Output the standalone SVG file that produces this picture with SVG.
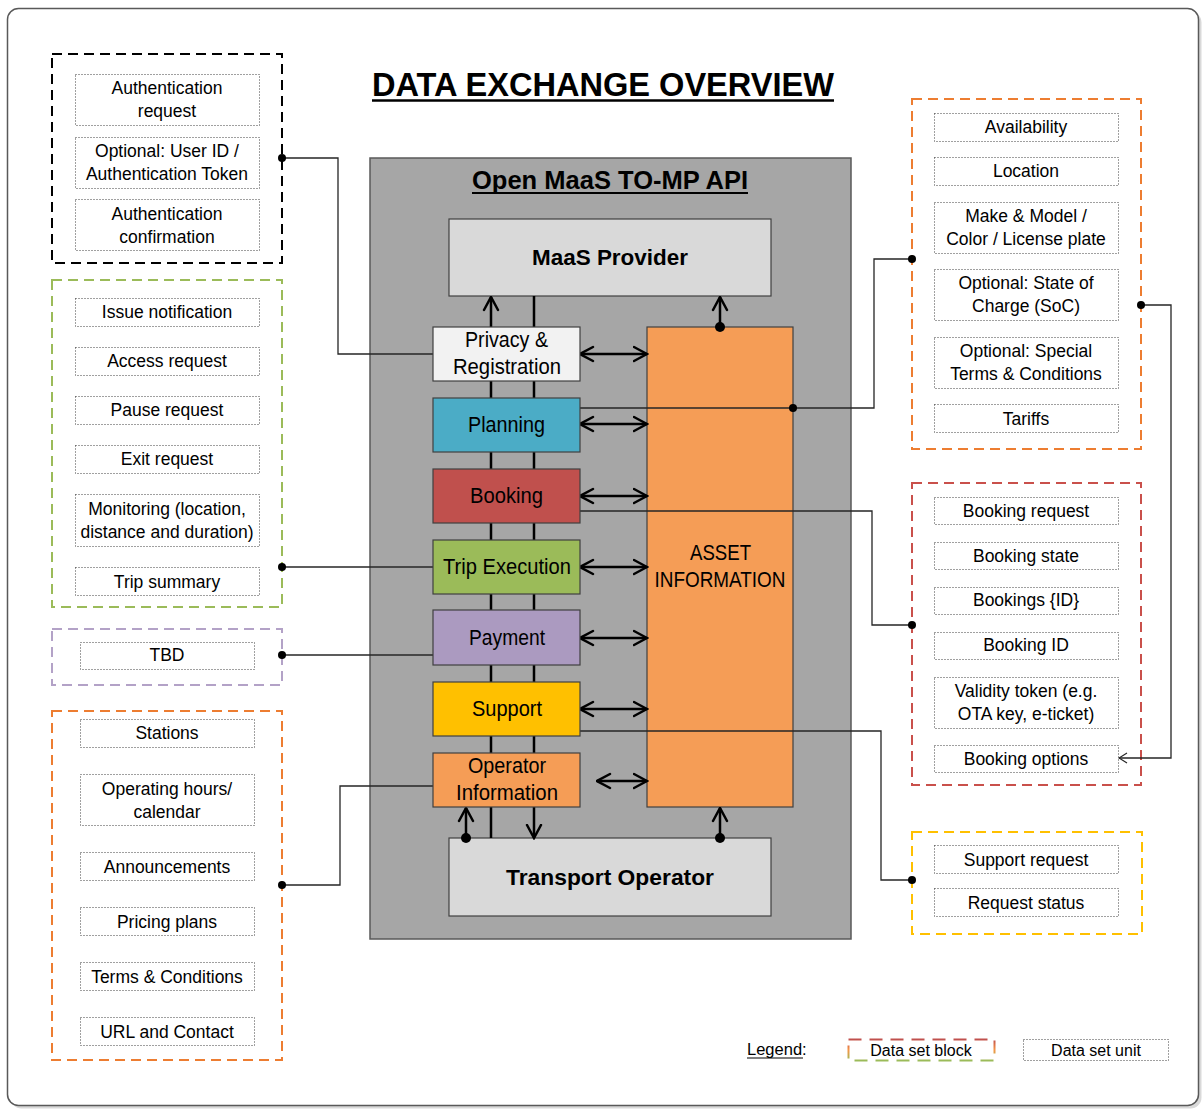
<svg xmlns="http://www.w3.org/2000/svg" width="1204" height="1109" viewBox="0 0 1204 1109">
  <style>
    .blk { fill: none; stroke-width: 2; stroke-dasharray: 10 6; }
    .unit { fill: none; stroke: #404040; stroke-width: 1; stroke-dasharray: 1 2; }
    .ut { font-family: "Liberation Sans", Arial, sans-serif; font-size: 17.5px; fill: #000; text-anchor: middle; }
    .nl { font-family: "Liberation Sans Narrow", "Liberation Sans", Arial, sans-serif; font-size: 22px; fill: #000; text-anchor: middle; }
    .bl { font-family: "Liberation Sans", Arial, sans-serif; font-weight: bold; fill: #000; text-anchor: middle; }
    .fn { stroke: #404040; stroke-width: 1.2; }
    .link { fill: none; stroke: #262626; stroke-width: 1.3; }
    .flow { fill: none; stroke: #000; stroke-width: 2.5; }
    .dot { fill: #000; }
  </style>
  <defs>
    <marker id="openArrow" viewBox="0 0 16 18" refX="14.5" refY="9" markerWidth="16" markerHeight="18" markerUnits="userSpaceOnUse" orient="auto-start-reverse">
      <path d="M1.5,2 L14.5,9 L1.5,16" fill="none" stroke="#000" stroke-width="2.5" stroke-linecap="round"/>
    </marker>
    <marker id="thinArrow" viewBox="0 0 10 12" refX="9" refY="6" markerWidth="10" markerHeight="12" markerUnits="userSpaceOnUse" orient="auto">
      <path d="M1,1 L9,6 L1,11" fill="none" stroke="#262626" stroke-width="1.2"/>
    </marker>
    <linearGradient id="legendGrad" x1="0" y1="0" x2="0" y2="1">
      <stop offset="0" stop-color="#c0504d"/>
      <stop offset="0.5" stop-color="#f79646"/>
      <stop offset="1" stop-color="#9bbb59"/>
    </linearGradient>
  </defs>

  <!-- page frame -->
  <rect x="10.5" y="11.5" width="1191" height="1097" rx="11" fill="#d9d9d9"/>
  <rect x="7.5" y="8.5" width="1191" height="1097" rx="11" fill="#fff" stroke="#595959" stroke-width="1.5"/>

  <!-- title -->
  <text class="bl" x="603" y="96" font-size="33" textLength="462" lengthAdjust="spacingAndGlyphs">DATA EXCHANGE OVERVIEW</text>
  <line x1="372" y1="100.5" x2="834" y2="100.5" stroke="#000" stroke-width="2.5"/>

  <!-- data set block: privacy & registration -->
  <g id="ds-privacy">
    <rect class="blk" x="52" y="54" width="230" height="209" stroke="#000"/>
    <rect class="unit" x="75.5" y="74.5" width="184" height="51"/>
    <text class="ut" x="167" y="94">Authentication</text>
    <text class="ut" x="167" y="117">request</text>
    <rect class="unit" x="75.5" y="137.5" width="184" height="51"/>
    <text class="ut" x="167" y="157">Optional: User ID /</text>
    <text class="ut" x="167" y="180">Authentication Token</text>
    <rect class="unit" x="75.5" y="199.5" width="184" height="51"/>
    <text class="ut" x="167" y="220">Authentication</text>
    <text class="ut" x="167" y="243">confirmation</text>
  </g>

  <!-- data set block: trip execution -->
  <g id="ds-trip">
    <rect class="blk" x="52" y="280" width="230" height="327" stroke="#9bbb59"/>
    <rect class="unit" x="75.5" y="298.5" width="184" height="28"/>
    <text class="ut" x="167" y="318">Issue notification</text>
    <rect class="unit" x="75.5" y="347.5" width="184" height="28"/>
    <text class="ut" x="167" y="367">Access request</text>
    <rect class="unit" x="75.5" y="396.5" width="184" height="28"/>
    <text class="ut" x="167" y="416">Pause request</text>
    <rect class="unit" x="75.5" y="445.5" width="184" height="28"/>
    <text class="ut" x="167" y="465">Exit request</text>
    <rect class="unit" x="75.5" y="494.5" width="184" height="52"/>
    <text class="ut" x="167" y="515">Monitoring (location,</text>
    <text class="ut" x="167" y="538">distance and duration)</text>
    <rect class="unit" x="75.5" y="567.5" width="184" height="28"/>
    <text class="ut" x="167" y="588">Trip summary</text>
  </g>

  <!-- data set block: payment -->
  <g id="ds-payment">
    <rect class="blk" x="52" y="629" width="230" height="56" stroke="#b3a2c7"/>
    <rect class="unit" x="80.5" y="642.5" width="174" height="27"/>
    <text class="ut" x="167" y="661">TBD</text>
  </g>

  <!-- data set block: operator information -->
  <g id="ds-operator">
    <rect class="blk" x="52" y="711" width="230" height="349" stroke="#ed7d31"/>
    <rect class="unit" x="80.5" y="719.5" width="174" height="28"/>
    <text class="ut" x="167" y="739">Stations</text>
    <rect class="unit" x="80.5" y="774.5" width="174" height="51"/>
    <text class="ut" x="167" y="795">Operating hours/</text>
    <text class="ut" x="167" y="818">calendar</text>
    <rect class="unit" x="80.5" y="852.5" width="174" height="28"/>
    <text class="ut" x="167" y="873">Announcements</text>
    <rect class="unit" x="80.5" y="907.5" width="174" height="28"/>
    <text class="ut" x="167" y="928">Pricing plans</text>
    <rect class="unit" x="80.5" y="962.5" width="174" height="28"/>
    <text class="ut" x="167" y="983">Terms &amp; Conditions</text>
    <rect class="unit" x="80.5" y="1017.5" width="174" height="28"/>
    <text class="ut" x="167" y="1038">URL and Contact</text>
  </g>

  <!-- data set block: asset information -->
  <g id="ds-asset">
    <rect class="blk" x="912" y="99" width="229" height="350" stroke="#ed7d31"/>
    <rect class="unit" x="934.5" y="113.5" width="184" height="28"/>
    <text class="ut" x="1026" y="133">Availability</text>
    <rect class="unit" x="934.5" y="157.5" width="184" height="28"/>
    <text class="ut" x="1026" y="177">Location</text>
    <rect class="unit" x="934.5" y="202.5" width="184" height="51"/>
    <text class="ut" x="1026" y="222">Make &amp; Model /</text>
    <text class="ut" x="1026" y="245">Color / License plate</text>
    <rect class="unit" x="934.5" y="269.5" width="184" height="51"/>
    <text class="ut" x="1026" y="289">Optional: State of</text>
    <text class="ut" x="1026" y="312">Charge (SoC)</text>
    <rect class="unit" x="934.5" y="337.5" width="184" height="51"/>
    <text class="ut" x="1026" y="357">Optional: Special</text>
    <text class="ut" x="1026" y="380">Terms &amp; Conditions</text>
    <rect class="unit" x="934.5" y="404.5" width="184" height="28"/>
    <text class="ut" x="1026" y="425">Tariffs</text>
  </g>

  <!-- data set block: booking -->
  <g id="ds-booking">
    <rect class="blk" x="912" y="483" width="229" height="302" stroke="#c9504b"/>
    <rect class="unit" x="934.5" y="497.5" width="184" height="27"/>
    <text class="ut" x="1026" y="517">Booking request</text>
    <rect class="unit" x="934.5" y="542.5" width="184" height="27"/>
    <text class="ut" x="1026" y="562">Booking state</text>
    <rect class="unit" x="934.5" y="587.5" width="184" height="27"/>
    <text class="ut" x="1026" y="606">Bookings {ID}</text>
    <rect class="unit" x="934.5" y="632.5" width="184" height="27"/>
    <text class="ut" x="1026" y="651">Booking ID</text>
    <rect class="unit" x="934.5" y="677.5" width="184" height="51"/>
    <text class="ut" x="1026" y="697">Validity token (e.g.</text>
    <text class="ut" x="1026" y="720">OTA key, e-ticket)</text>
    <rect class="unit" x="934.5" y="745.5" width="184" height="27"/>
    <text class="ut" x="1026" y="765">Booking options</text>
  </g>

  <!-- data set block: support -->
  <g id="ds-support">
    <rect class="blk" x="912" y="832" width="230" height="102" stroke="#ffc000"/>
    <rect class="unit" x="934.5" y="845.5" width="184" height="28"/>
    <text class="ut" x="1026" y="866">Support request</text>
    <rect class="unit" x="934.5" y="888.5" width="184" height="28"/>
    <text class="ut" x="1026" y="909">Request status</text>
  </g>

  <!-- API container -->
  <g id="api">
    <rect x="370" y="158" width="481" height="781" fill="#a6a6a6" stroke="#595959" stroke-width="1.5"/>
    <text class="bl" x="610" y="189" font-size="25" textLength="276" lengthAdjust="spacingAndGlyphs">Open MaaS TO-MP API</text>
    <line x1="472" y1="193" x2="748" y2="193" stroke="#000" stroke-width="2"/>
  </g>

  <g id="maas-provider">
    <rect x="449" y="219" width="322" height="77" fill="#d9d9d9" stroke="#404040" stroke-width="1.2"/>
    <text class="bl" x="610" y="265" font-size="22" textLength="156" lengthAdjust="spacingAndGlyphs">MaaS Provider</text>
  </g>

  <g id="transport-operator">
    <rect x="449" y="838" width="322" height="78" fill="#d9d9d9" stroke="#404040" stroke-width="1.2"/>
    <text class="bl" x="610" y="885" font-size="22" textLength="208" lengthAdjust="spacingAndGlyphs">Transport Operator</text>
  </g>

  <g id="asset-information">
    <rect x="647" y="327" width="146" height="480" fill="#f59d56" stroke="#404040" stroke-width="1.2"/>
    <text class="nl" x="720.5" y="560" textLength="61" lengthAdjust="spacingAndGlyphs">ASSET</text>
    <text class="nl" x="720" y="587" textLength="131" lengthAdjust="spacingAndGlyphs">INFORMATION</text>
  </g>

  <!-- connectors -->
  <g id="connectors">
    <!-- vertical flows between MaaS Provider and Transport Operator -->
    <line class="flow" x1="491" y1="838" x2="491" y2="297" marker-end="url(#openArrow)"/>
    <line class="flow" x1="534" y1="296" x2="534" y2="838" marker-end="url(#openArrow)"/>
    <line class="flow" x1="466" y1="838" x2="466" y2="808" marker-end="url(#openArrow)"/>
    <circle class="dot" cx="466" cy="838" r="5"/>
    <line class="flow" x1="720" y1="327" x2="720" y2="297" marker-end="url(#openArrow)"/>
    <circle class="dot" cx="720" cy="327" r="5"/>
    <line class="flow" x1="720" y1="838" x2="720" y2="808" marker-end="url(#openArrow)"/>
    <circle class="dot" cx="720" cy="838" r="5"/>

    <!-- function to asset information exchanges -->
    <line class="flow" x1="580" y1="354" x2="647" y2="354" marker-start="url(#openArrow)" marker-end="url(#openArrow)"/>
    <line class="flow" x1="580" y1="424" x2="647" y2="424" marker-start="url(#openArrow)" marker-end="url(#openArrow)"/>
    <line class="flow" x1="580" y1="496" x2="647" y2="496" marker-start="url(#openArrow)" marker-end="url(#openArrow)"/>
    <line class="flow" x1="580" y1="567" x2="647" y2="567" marker-start="url(#openArrow)" marker-end="url(#openArrow)"/>
    <line class="flow" x1="580" y1="638" x2="647" y2="638" marker-start="url(#openArrow)" marker-end="url(#openArrow)"/>
    <line class="flow" x1="580" y1="709" x2="647" y2="709" marker-start="url(#openArrow)" marker-end="url(#openArrow)"/>
    <line class="flow" x1="597" y1="781" x2="647" y2="781" marker-start="url(#openArrow)" marker-end="url(#openArrow)"/>

    <!-- data set links -->
    <path class="link" d="M282,158 H338 V354 H433"/>
    <circle class="dot" cx="282" cy="158" r="4"/>
    <path class="link" d="M282,567 H433"/>
    <circle class="dot" cx="282" cy="567" r="4"/>
    <path class="link" d="M282,655 H433"/>
    <circle class="dot" cx="282" cy="655" r="4"/>
    <path class="link" d="M282,885 H340 V786 H433"/>
    <circle class="dot" cx="282" cy="885" r="4"/>

    <path class="link" d="M580,408 H874 V259 H912"/>
    <circle class="dot" cx="793" cy="408" r="4"/>
    <circle class="dot" cx="912" cy="259" r="4"/>
    <path class="link" d="M580,511 H872 V625 H912"/>
    <circle class="dot" cx="912" cy="625" r="4"/>
    <path class="link" d="M580,731 H881 V880 H912"/>
    <circle class="dot" cx="912" cy="880" r="4"/>
    <path class="link" d="M1141,305 H1171 V758 H1119" marker-end="url(#thinArrow)"/>
    <circle class="dot" cx="1141" cy="305" r="4"/>
  </g>

  <!-- API functions -->
  <g id="privacy-registration">
    <rect class="fn" x="433" y="327" width="147" height="54" fill="#f2f2f2"/>
    <text class="nl" x="506.5" y="347" textLength="83" lengthAdjust="spacingAndGlyphs">Privacy &amp;</text>
    <text class="nl" x="507" y="374" textLength="108" lengthAdjust="spacingAndGlyphs">Registration</text>
  </g>
  <g id="planning">
    <rect class="fn" x="433" y="398" width="147" height="54" fill="#4bacc6"/>
    <text class="nl" x="506.5" y="432" textLength="77" lengthAdjust="spacingAndGlyphs">Planning</text>
  </g>
  <g id="booking">
    <rect class="fn" x="433" y="469" width="147" height="54" fill="#c0504d"/>
    <text class="nl" x="506.5" y="503" textLength="73" lengthAdjust="spacingAndGlyphs">Booking</text>
  </g>
  <g id="trip-execution">
    <rect class="fn" x="433" y="540" width="147" height="54" fill="#9bbb59"/>
    <text class="nl" x="507" y="574" textLength="128" lengthAdjust="spacingAndGlyphs">Trip Execution</text>
  </g>
  <g id="payment">
    <rect class="fn" x="433" y="610" width="147" height="55" fill="#ab9ac0"/>
    <text class="nl" x="507" y="645" textLength="76" lengthAdjust="spacingAndGlyphs">Payment</text>
  </g>
  <g id="support">
    <rect class="fn" x="433" y="682" width="147" height="54" fill="#ffc000"/>
    <text class="nl" x="507" y="716" textLength="70" lengthAdjust="spacingAndGlyphs">Support</text>
  </g>
  <g id="operator-information">
    <rect class="fn" x="433" y="753" width="147" height="54" fill="#f59d56"/>
    <text class="nl" x="507" y="773" textLength="78" lengthAdjust="spacingAndGlyphs">Operator</text>
    <text class="nl" x="507" y="800" textLength="102" lengthAdjust="spacingAndGlyphs">Information</text>
  </g>

  <!-- legend -->
  <g id="legend">
    <text x="747" y="1055" font-family="Liberation Sans, Arial, sans-serif" font-size="16.5" fill="#000">Legend:</text>
    <line x1="747" y1="1058" x2="803" y2="1058" stroke="#000" stroke-width="1.2"/>
    <rect x="848.5" y="1039.5" width="146" height="21" fill="none" stroke="url(#legendGrad)" stroke-width="2" stroke-dasharray="13 8"/>
    <text x="921" y="1056" font-family="Liberation Sans, Arial, sans-serif" font-size="16" fill="#000" text-anchor="middle">Data set block</text>
    <rect class="unit" x="1023.5" y="1039.5" width="145" height="21"/>
    <text x="1096" y="1056" font-family="Liberation Sans, Arial, sans-serif" font-size="16" fill="#000" text-anchor="middle">Data set unit</text>
  </g>
</svg>
